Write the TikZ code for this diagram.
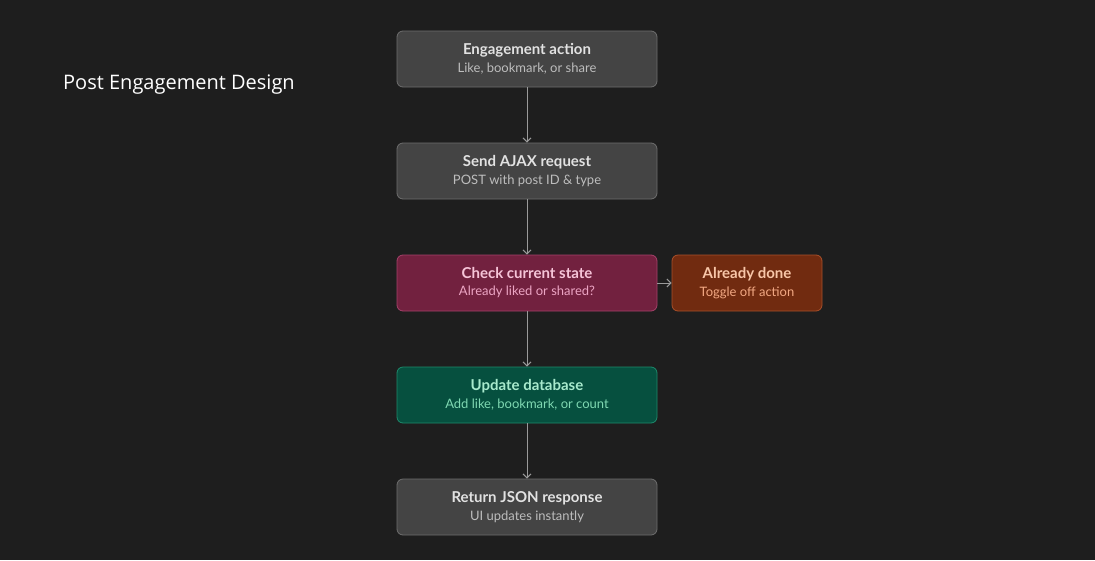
\documentclass[tikz,border=0pt]{standalone}
\usepackage{fontspec}
\setmainfont{Lato}
\newfontfamily\titlefont{Open Sans}
\usetikzlibrary{arrows.meta,positioning}
\definecolor{bg}{HTML}{1E1E1E}
\definecolor{grayfill}{HTML}{444444}
\definecolor{graydraw}{HTML}{6E6E6E}
\definecolor{graytitle}{HTML}{E2E2E2}
\definecolor{graysub}{HTML}{BDBDBD}
\definecolor{redfill}{HTML}{72213F}
\definecolor{reddraw}{HTML}{A5416A}
\definecolor{redtitle}{HTML}{F6C4D8}
\definecolor{redsub}{HTML}{ECA5C4}
\definecolor{orgfill}{HTML}{712B10}
\definecolor{orgdraw}{HTML}{A9502A}
\definecolor{orgtitle}{HTML}{F8C6A8}
\definecolor{orgsub}{HTML}{F2A883}
\definecolor{grnfill}{HTML}{06503F}
\definecolor{grndraw}{HTML}{1E8A6C}
\definecolor{grntitle}{HTML}{A8EACD}
\definecolor{grnsub}{HTML}{7FD8B2}
\definecolor{arrowc}{HTML}{9A9A9A}
\tikzset{
  x=1pt,y=-1pt,
  box/.style={rounded corners=6pt, line width=0.8pt, minimum height=56pt, inner sep=0pt, align=center},
  mainbox/.style={box, minimum width=260pt},
  sidebox/.style={box, minimum width=150pt},
  graybox/.style={fill=grayfill, draw=graydraw},
  redbox/.style={fill=redfill, draw=reddraw},
  orgbox/.style={fill=orgfill, draw=orgdraw},
  grnbox/.style={fill=grnfill, draw=grndraw},
  conn/.style={draw=arrowc, line width=1pt, -{Straight Barb[length=4pt,width=8pt,line width=1pt]}},
}
\newcommand{\boxtext}[4]{{\fontsize{15}{18}\selectfont\bfseries\color{#1}#3}\\[5pt]{\fontsize{13}{15}\selectfont\color{#2}#4}}
\begin{document}
\begin{tikzpicture}
\fill[bg] (0,0) rectangle (1095,560);
\useasboundingbox (0,0) rectangle (1095,560);
\node[anchor=base west, text=white, inner sep=0pt] (title) at (63,89) {\titlefont\fontsize{20}{24}\selectfont Post Engagement Design};
\node[mainbox, graybox] (a) at (527,59) {\boxtext{graytitle}{graysub}{Engagement action}{Like, bookmark, or share}};
\node[mainbox, graybox] (b) at (527,171) {\boxtext{graytitle}{graysub}{Send AJAX request}{POST with post ID \& type}};
\node[mainbox, redbox] (c) at (527,283) {\boxtext{redtitle}{redsub}{Check current state}{Already liked or shared?}};
\node[sidebox, orgbox] (s) at (747,283) {\boxtext{orgtitle}{orgsub}{Already done}{Toggle off action}};
\node[mainbox, grnbox] (d) at (527,395) {\boxtext{grntitle}{grnsub}{Update database}{Add like, bookmark, or count}};
\node[mainbox, graybox] (e) at (527,507) {\boxtext{graytitle}{graysub}{Return JSON response}{UI updates instantly}};
\draw[conn] (a) -- (b);
\draw[conn] (b) -- (c);
\draw[conn] (c) -- (s);
\draw[conn] (c) -- (d);
\draw[conn] (d) -- (e);
\end{tikzpicture}
\end{document}
